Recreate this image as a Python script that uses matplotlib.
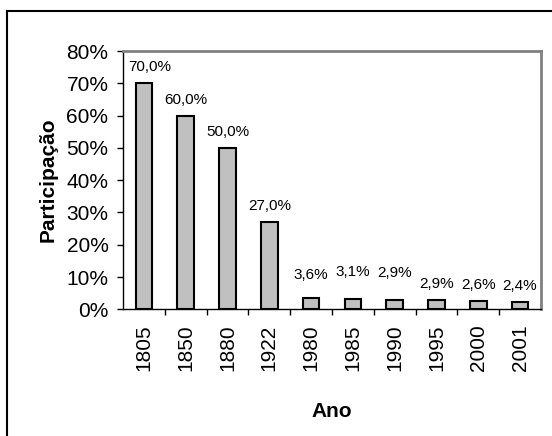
import numpy as np
import matplotlib.pyplot as plt
from matplotlib.lines import Line2D

# Data
anos = ['1805', '1850', '1880', '1922', '1980', '1985', '1990', '1995', '2000', '2001']
participacao = [70.0, 60.0, 50.0, 27.0, 3.6, 3.1, 2.9, 2.9, 2.6, 2.4]
rotulos = ['70,0%', '60,0%', '50,0%', '27,0%', '3,6%', '3,1%', '2,9%', '2,9%', '2,6%', '2,4%']

plt.rcParams['font.family'] = ['Liberation Sans', 'DejaVu Sans']

fig = plt.figure(figsize=(5.52, 4.36), dpi=100)
ax = fig.add_axes([0.2228, 0.2906, 0.7572, 0.5924])

x = np.arange(len(anos))
bars = ax.bar(x, participacao, width=0.4, color='#c0c0c0', edgecolor='black', linewidth=1.5)

# value labels (a few were nudged by hand in the original)
extra = {0: (4, 0), 4: (0, 5), 5: (0, 8), 6: (0, 8)}
for i, (b, r) in enumerate(zip(bars, rotulos)):
    dx, dy = extra.get(i, (0, 0))
    ax.annotate(r, (b.get_x() + b.get_width() / 2, b.get_height()),
                xytext=(dx, 11.5 + dy), textcoords='offset points',
                ha='center', va='center', fontsize=11)

ax.set_xlim(-0.5, len(anos) - 0.5)
ax.set_ylim(0, 80)
ax.set_yticks(range(0, 81, 10))
ax.set_yticklabels([f'{v}%' for v in range(0, 81, 10)], fontsize=15)
ax.set_xticks(x)
ax.set_xticklabels(anos, rotation=90, fontsize=15)
ax.set_xticks(np.arange(0.5, len(anos) - 0.5, 1), minor=True)
ax.tick_params(axis='x', which='major', length=0, pad=11)
ax.tick_params(axis='x', which='minor', length=4.5, width=1, direction='out')
ax.tick_params(axis='y', length=4.5, width=1, direction='out', pad=6)

for s in ['top', 'right']:
    ax.spines[s].set_color('#808080')
    ax.spines[s].set_linewidth(2)
for s in ['left', 'bottom']:
    ax.spines[s].set_color('black')
    ax.spines[s].set_linewidth(1)

ax.set_xlabel('Ano', fontsize=15, fontweight='bold', labelpad=22)
ax.set_ylabel('Participação', fontsize=15, fontweight='bold', labelpad=6)

# outer frame (left and top visible)
fig.add_artist(Line2D([7 / 552, 7 / 552], [0, 1 - 11 / 436], transform=fig.transFigure, color='black', lw=1.5))
fig.add_artist(Line2D([7 / 552, 1], [1 - 11 / 436, 1 - 11 / 436], transform=fig.transFigure, color='black', lw=1.5))

fig.savefig('out.png', dpi=100)
